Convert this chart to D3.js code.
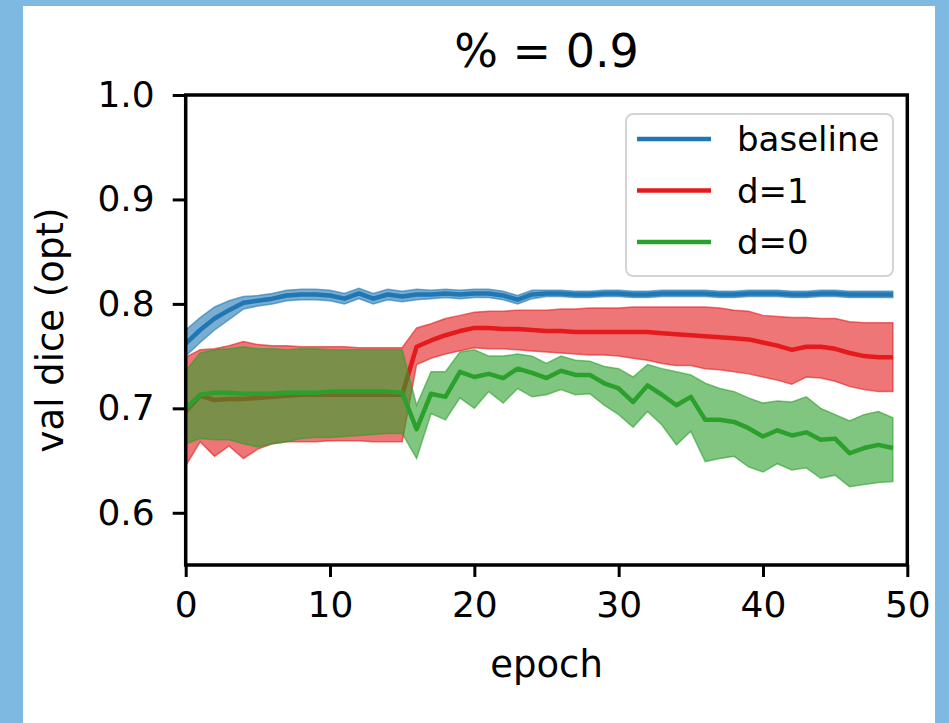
<!DOCTYPE html>
<html>
<head>
<meta charset="utf-8">
<script src="https://cdn.jsdelivr.net/npm/d3@7"></script>
<style>
  body { margin: 0; background: #7db9e0; }
  text { font-family: "DejaVu Sans", sans-serif; fill: #000; }
</style>
</head>
<body>
<div id="chart"></div>
<script>
    // data (one value per epoch, 0..49)
    var epochs = d3.range(50);
    var seriesNames = ["baseline", "d=1", "d=0"];
    var seriesColors = ["#1f77b4", "#e41a1c", "#2ca02c"];
    var xTicks = [0, 10, 20, 30, 40, 50];
    var yTicks = [0.6, 0.7, 0.8, 0.9, 1.0];

    var baselineMean = [0.762, 0.775, 0.786, 0.794, 0.801, 0.803, 0.805, 0.808, 0.809, 0.809,
      0.808, 0.805, 0.810, 0.805, 0.809, 0.807, 0.809, 0.809, 0.810, 0.809,
      0.810, 0.810, 0.808, 0.804, 0.809, 0.810, 0.810, 0.809, 0.809, 0.810,
      0.810, 0.809, 0.809, 0.810, 0.810, 0.810, 0.810, 0.809, 0.809, 0.810,
      0.810, 0.810, 0.809, 0.809, 0.810, 0.810, 0.809, 0.809, 0.809, 0.809];
    var baselineLow = [0.750, 0.763, 0.775, 0.785, 0.795, 0.798, 0.800, 0.803, 0.804, 0.804,
      0.803, 0.800, 0.805, 0.800, 0.804, 0.802, 0.804, 0.805, 0.806, 0.805,
      0.806, 0.806, 0.804, 0.800, 0.805, 0.807, 0.807, 0.806, 0.806, 0.807,
      0.807, 0.806, 0.806, 0.807, 0.807, 0.807, 0.807, 0.806, 0.806, 0.807,
      0.807, 0.807, 0.806, 0.806, 0.807, 0.807, 0.806, 0.806, 0.806, 0.806];
    var baselineHigh = [0.775, 0.787, 0.797, 0.803, 0.807, 0.808, 0.810, 0.813, 0.814, 0.814,
      0.813, 0.810, 0.815, 0.810, 0.814, 0.812, 0.814, 0.813, 0.814, 0.813,
      0.814, 0.814, 0.812, 0.808, 0.813, 0.813, 0.813, 0.812, 0.812, 0.813,
      0.813, 0.812, 0.812, 0.813, 0.813, 0.813, 0.813, 0.812, 0.812, 0.813,
      0.813, 0.813, 0.812, 0.812, 0.813, 0.813, 0.812, 0.812, 0.812, 0.812];

    var d1Mean = [0.697, 0.712, 0.708, 0.709, 0.709, 0.710, 0.711, 0.712, 0.713, 0.713,
      0.713, 0.713, 0.713, 0.713, 0.713, 0.713, 0.759, 0.765, 0.770, 0.774,
      0.777, 0.777, 0.776, 0.776, 0.775, 0.774, 0.774, 0.773, 0.773, 0.773,
      0.773, 0.773, 0.773, 0.772, 0.771, 0.770, 0.769, 0.768, 0.767, 0.766,
      0.763, 0.760, 0.756, 0.759, 0.759, 0.757, 0.753, 0.750, 0.749, 0.749];
    var d1Low = [0.645, 0.668, 0.654, 0.664, 0.652, 0.661, 0.666, 0.668, 0.668, 0.668,
      0.669, 0.669, 0.669, 0.668, 0.668, 0.668, 0.742, 0.748, 0.752, 0.755,
      0.758, 0.757, 0.757, 0.756, 0.755, 0.754, 0.753, 0.752, 0.751, 0.751,
      0.750, 0.748, 0.746, 0.743, 0.741, 0.741, 0.738, 0.737, 0.735, 0.733,
      0.730, 0.727, 0.723, 0.730, 0.729, 0.726, 0.721, 0.718, 0.716, 0.716];
    var d1High = [0.749, 0.756, 0.757, 0.760, 0.764, 0.761, 0.760, 0.760, 0.759, 0.759,
      0.759, 0.759, 0.758, 0.758, 0.758, 0.758, 0.777, 0.781, 0.786, 0.789,
      0.792, 0.793, 0.793, 0.794, 0.794, 0.794, 0.795, 0.795, 0.796, 0.796,
      0.796, 0.797, 0.797, 0.797, 0.797, 0.797, 0.797, 0.796, 0.794, 0.793,
      0.789, 0.788, 0.787, 0.787, 0.786, 0.786, 0.783, 0.782, 0.782, 0.782];

    var d0Mean = [0.700, 0.713, 0.715, 0.715, 0.714, 0.714, 0.714, 0.715, 0.715, 0.715,
      0.716, 0.716, 0.716, 0.716, 0.716, 0.715, 0.680, 0.714, 0.711, 0.735,
      0.730, 0.733, 0.729, 0.738, 0.734, 0.729, 0.736, 0.732, 0.732, 0.724,
      0.719, 0.706, 0.722, 0.713, 0.703, 0.711, 0.689, 0.689, 0.687, 0.681,
      0.673, 0.679, 0.674, 0.677, 0.670, 0.671, 0.657, 0.662, 0.665, 0.662];
    var d0Low = [0.666, 0.671, 0.670, 0.670, 0.666, 0.663, 0.666, 0.668, 0.671, 0.672,
      0.672, 0.673, 0.674, 0.675, 0.676, 0.676, 0.652, 0.695, 0.689, 0.710,
      0.700, 0.716, 0.705, 0.719, 0.711, 0.713, 0.718, 0.713, 0.714, 0.703,
      0.694, 0.682, 0.697, 0.684, 0.665, 0.678, 0.649, 0.652, 0.654, 0.644,
      0.639, 0.647, 0.641, 0.643, 0.633, 0.636, 0.625, 0.627, 0.629, 0.630];
    var d0High = [0.736, 0.753, 0.756, 0.757, 0.759, 0.757, 0.757, 0.756, 0.757, 0.757,
      0.756, 0.756, 0.756, 0.756, 0.756, 0.756, 0.703, 0.735, 0.735, 0.754,
      0.756, 0.750, 0.750, 0.752, 0.750, 0.743, 0.750, 0.746, 0.745, 0.740,
      0.738, 0.730, 0.742, 0.738, 0.735, 0.732, 0.724, 0.719, 0.716, 0.710,
      0.705, 0.707, 0.706, 0.711, 0.700, 0.694, 0.688, 0.694, 0.697, 0.691];

    var means = [baselineMean, d1Mean, d0Mean];
    var lows = [baselineLow, d1Low, d0Low];
    var highs = [baselineHigh, d1High, d0High];

    // set the dimensions and margins of the graph
    var W = 949, H = 723;
    var margin = { top: 95, right: 41.7, bottom: 158, left: 185.7 },
      width = W - margin.left - margin.right,
      height = H - margin.top - margin.bottom;

    var svg = d3.select("#chart")
      .append("svg")
      .attr("width", W)
      .attr("height", H);

    // white panel inside the blue frame
    svg.append("rect")
      .attr("x", 23).attr("y", 6)
      .attr("width", 912).attr("height", 717)
      .attr("fill", "#fff");

    var g = svg.append("g")
      .attr("transform", "translate(" + margin.left + "," + margin.top + ")");

    var x = d3.scaleLinear().domain([0, 50]).range([0, width]);
    var y = d3.scaleLinear().domain([0.55, 1.0]).range([height, 0]);

    // bands and lines, one series after the other
    var plot = g.append("g");
    means.forEach(function (m, k) {
      var area = d3.area()
        .x(function (d) { return x(d); })
        .y0(function (d) { return y(lows[k][d]); })
        .y1(function (d) { return y(highs[k][d]); });
      plot.append("path")
        .datum(epochs)
        .attr("d", area)
        .attr("fill", seriesColors[k])
        .attr("fill-opacity", 0.6)
        .attr("stroke", seriesColors[k])
        .attr("stroke-opacity", 0.6)
        .attr("stroke-width", 1.5);

      var line = d3.line()
        .x(function (d) { return x(d); })
        .y(function (d) { return y(m[d]); });
      plot.append("path")
        .datum(epochs)
        .attr("d", line)
        .attr("fill", "none")
        .attr("stroke", seriesColors[k])
        .attr("stroke-width", 4.5)
        .attr("stroke-linejoin", "round");
    });

    // axes
    var xAxis = g.append("g")
      .attr("transform", "translate(0," + height + ")")
      .call(d3.axisBottom(x).tickValues(xTicks).tickFormat(d3.format("d"))
        .tickSize(12).tickPadding(14));
    var yAxis = g.append("g")
      .call(d3.axisLeft(y).tickValues(yTicks).tickFormat(d3.format(".1f"))
        .tickSize(13).tickPadding(18));
    [xAxis, yAxis].forEach(function (a) {
      a.select(".domain").remove();
      a.selectAll("line").attr("stroke", "#000").attr("stroke-width", 3);
      a.selectAll("text").style("font-size", "36px").attr("fill", "#000");
    });

    // frame
    g.append("rect")
      .attr("width", width).attr("height", height)
      .attr("fill", "none")
      .attr("stroke", "#000")
      .attr("stroke-width", 3.5);

    // title and labels
    svg.append("text")
      .attr("x", margin.left + width / 2)
      .attr("y", 67)
      .attr("text-anchor", "middle")
      .style("font-size", "46px")
      .text("% = 0.9");

    svg.append("text")
      .attr("x", margin.left + width / 2)
      .attr("y", 677)
      .attr("text-anchor", "middle")
      .style("font-size", "37px")
      .text("epoch");

    svg.append("text")
      .attr("transform", "translate(63," + (margin.top + height / 2) + ")rotate(-90)")
      .attr("text-anchor", "middle")
      .style("font-size", "37px")
      .text("val dice (opt)");

    // legend
    var legend = svg.append("g").attr("transform", "translate(626,114)");
    legend.append("rect")
      .attr("width", 267).attr("height", 162)
      .attr("rx", 7)
      .attr("fill", "#fff").attr("fill-opacity", 0.8)
      .attr("stroke", "#d4d4d4").attr("stroke-width", 2);
    var item = legend.selectAll(".item")
      .data(seriesNames)
      .enter().append("g")
      .attr("transform", function (d, i) { return "translate(0," + (25 + i * 51.5) + ")"; });
    item.append("line")
      .attr("x1", 11).attr("x2", 85)
      .attr("stroke", function (d, i) { return seriesColors[i]; })
      .attr("stroke-width", 4.5);
    item.append("text")
      .attr("x", 111).attr("y", 12)
      .style("font-size", "34px")
      .text(function (d) { return d; });
</script>
</body>
</html>
